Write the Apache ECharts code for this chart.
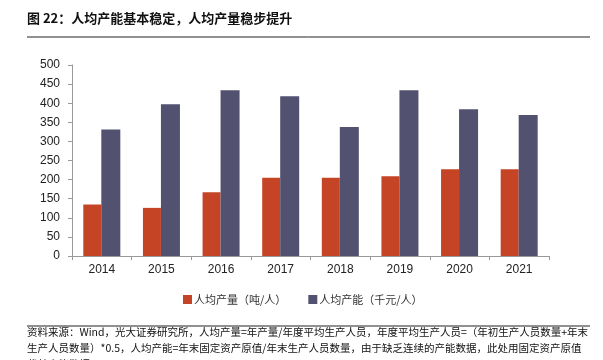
<!DOCTYPE html>
<html><head><meta charset="utf-8">
<script src="https://cdn.jsdelivr.net/npm/echarts@6/dist/echarts.min.js"></script>
<style>html,body{margin:0;padding:0;background:#fff}#c{width:603px;height:360px}</style>
</head><body><div id="c"></div>
<script>
var years = ['2014','2015','2016','2017','2018','2019','2020','2021'];
var outputPerCapita = [135, 126, 167, 205, 205, 209, 227, 227];
var capacityPerCapita = [331, 397, 434, 418, 338, 434, 384, 369];
var seriesNames = ['人均产量（吨/人）', '人均产能（千元/人）'];
var titleText = '图 22：人均产能基本稳定，人均产量稳步提升';
var noteLines = [
  '资料来源：Wind，光大证券研究所，人均产量=年产量/年度平均生产人员，年度平均生产人员=（年初生产人员数量+年末',
  '生产人员数量）*0.5，人均产能=年末固定资产原值/年末生产人员数量，由于缺乏连续的产能数据，此处用固定资产原值',
  '代替产能数据'
];
var font = '"Noto Sans CJK SC", "Noto Sans", sans-serif';
var chart = echarts.init(document.getElementById('c'));
chart.setOption({
  animation: false,
  color: ['#C54426', '#525170'],
  grid: {left: 72, right: 54, top: 65, bottom: 104},
  legend: {
    data: seriesNames, bottom: 50, left: 178, itemWidth: 9, itemHeight: 9, itemGap: 22,
    icon: 'rect',
    textStyle: {fontFamily: font, fontSize: 11, color: '#333', padding: [0,0,0,-3]}
  },
  xAxis: {
    type: 'category', data: years,
    axisLine: {lineStyle: {color: '#999'}},
    axisTick: {show: true, alignWithLabel: false, lineStyle: {color: '#999'}, length: 4},
    axisLabel: {fontFamily: 'Liberation Sans, Arial, sans-serif', fontSize: 12, color: '#222', margin: 8}
  },
  yAxis: {
    type: 'value', min: 0, max: 500, interval: 50,
    axisLine: {show: true, lineStyle: {color: '#999'}},
    axisTick: {show: true, inside: false, length: 4, lineStyle: {color: '#999'}},
    splitLine: {show: false},
    axisLabel: {fontFamily: 'Liberation Sans, Arial, sans-serif', fontSize: 12, color: '#222', margin: 12}
  },
  series: [
    {name: seriesNames[0], type: 'bar', data: outputPerCapita, barWidth: 18, barGap: '0%'},
    {name: seriesNames[1], type: 'bar', data: capacityPerCapita, barWidth: 19, barGap: '0%'}
  ],
  graphic: [
    {type: 'text', left: 27, top: 12, style: {text: titleText, font: 'bold 13px ' + font, fill: '#111'}},
    {type: 'line', shape: {x1: 27, y1: 37, x2: 590, y2: 37}, style: {stroke: '#222', lineWidth: 1}},
    {type: 'line', shape: {x1: 27, y1: 326, x2: 590, y2: 326}, style: {stroke: '#222', lineWidth: 1}},
    {type: 'text', left: 27, top: 327, style: {text: noteLines[0], font: '10.5px ' + font, fill: '#111'}},
    {type: 'text', left: 27, top: 343, style: {text: noteLines[1], font: '10.5px ' + font, fill: '#111'}},
    {type: 'text', left: 27, top: 359, style: {text: noteLines[2], font: '10.5px ' + font, fill: '#111'}}
  ]
});
</script></body></html>
